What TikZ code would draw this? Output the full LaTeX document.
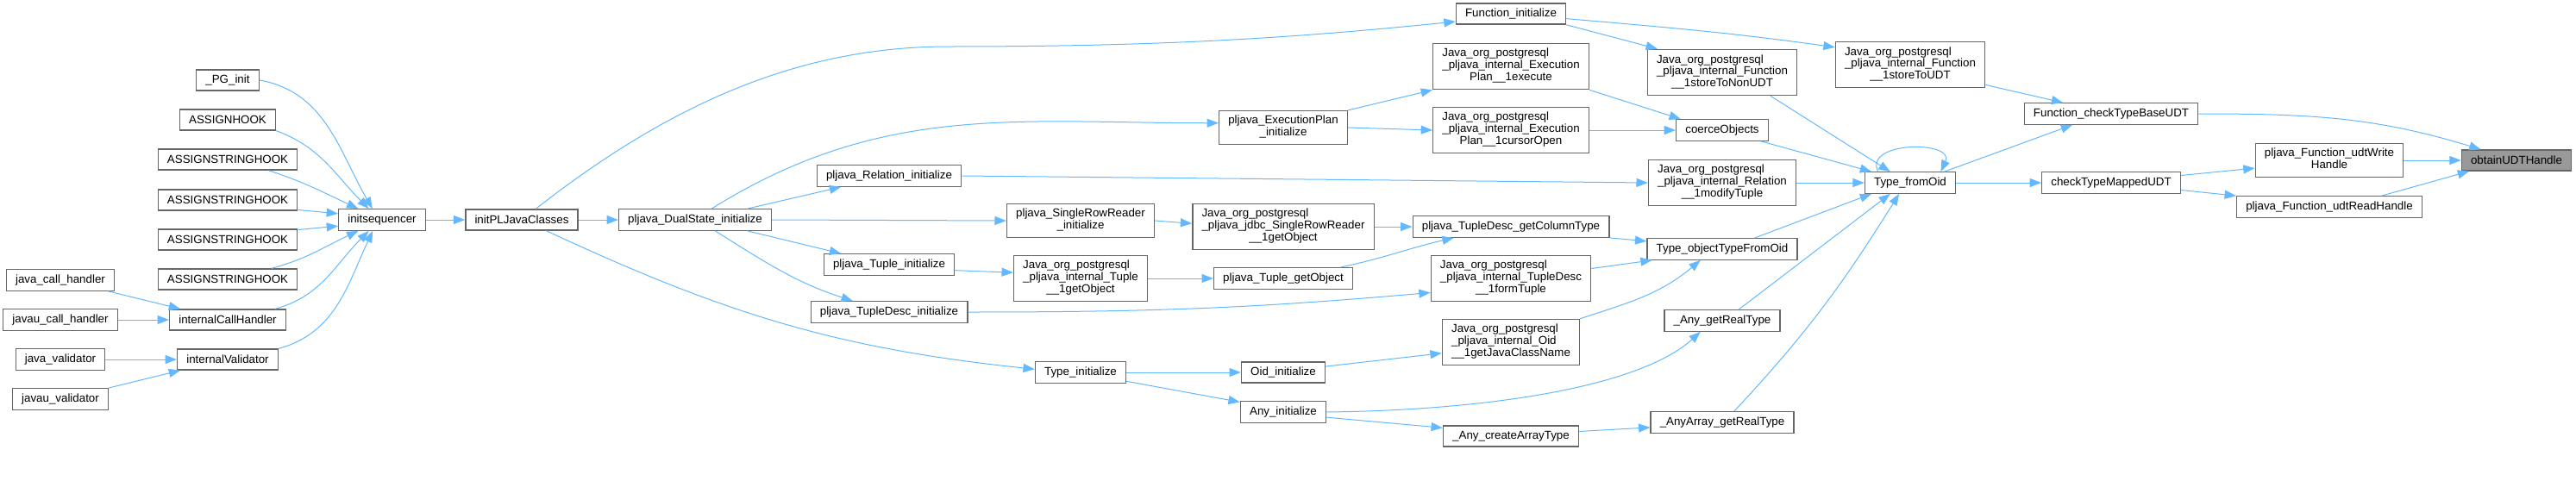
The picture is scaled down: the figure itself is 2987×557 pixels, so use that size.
\documentclass[tikz,border=0pt]{standalone}
\usepackage{fontspec}
\setmainfont{Liberation Sans}
\usetikzlibrary{arrows.meta}
\definecolor{edgeblue}{RGB}{99,184,255}
\definecolor{boxgray}{RGB}{102,102,102}
\definecolor{hlgray}{RGB}{153,153,153}
\newcommand{\twolines}[2]{\begin{tabular}{@{}l@{}}#1\\\multicolumn{1}{@{}c@{}}{#2}\end{tabular}}
\newcommand{\threelines}[3]{\begin{tabular}{@{}l@{}}#1\\#2\\\multicolumn{1}{@{}c@{}}{#3}\end{tabular}}
\newcommand{\jop}{Java\_org\_postgresql}
\begin{document}
\begin{tikzpicture}[
    x=0.75pt, y=-0.75pt,
    box/.style={rectangle, draw=boxgray, line width=1pt, fill=white, inner xsep=8pt, inner ysep=4.5pt,
                minimum height=18pt, font=\fontsize{10}{10.3}\selectfont},
    hlbox/.style={box, fill=hlgray},
    arr/.style={-{Triangle[length=10pt, width=7.5pt]}, edgeblue, line width=0.75pt}]
\useasboundingbox (0,0) rectangle (2987,557);
% column 1
\node[box] (jch) at (70,325) {java\_call\_handler};
\node[box] (jcu) at (70,371) {javau\_call\_handler};
\node[box] (jv) at (70,417) {java\_validator};
\node[box] (jvu) at (70,463) {javau\_validator};
% column 2
\node[box] (pginit) at (264,93) {\_PG\_init};
\node[box] (assignhook) at (264,139) {ASSIGNHOOK};
\node[box] (ash1) at (264,185) {ASSIGNSTRINGHOOK};
\node[box] (ash2) at (264,232) {ASSIGNSTRINGHOOK};
\node[box] (ash3) at (264,278) {ASSIGNSTRINGHOOK};
\node[box] (ash4) at (264,324) {ASSIGNSTRINGHOOK};
\node[box] (ich) at (264,371) {internalCallHandler};
\node[box] (iv) at (264,417) {internalValidator};
% columns 3 to 5
\node[box] (initseq) at (443,255) {initsequencer};
\node[box] (initpl) at (605,255) {initPLJavaClasses};
\node[box] (dsinit) at (806,255) {pljava\_DualState\_initialize};
% column 6
\node[box] (relinit) at (1031,204) {pljava\_Relation\_initialize};
\node[box] (tupinit) at (1031,307) {pljava\_Tuple\_initialize};
\node[box] (tdinit) at (1031,362) {pljava\_TupleDesc\_initialize};
% column 7
\node[box] (srrinit) at (1253,256) {\twolines{pljava\_SingleRowReader}{\_initialize}};
\node[box] (tupget) at (1253,323) {\threelines{\jop}{\_pljava\_internal\_Tuple}{\_\_1getObject}};
\node[box] (typeinit) at (1253,432) {Type\_initialize};
% column 8
\node[box] (epinit) at (1488,148) {\twolines{pljava\_ExecutionPlan}{\_initialize}};
\node[box] (jdbcget) at (1488,263) {\threelines{\jop}{\_pljava\_jdbc\_SingleRowReader}{\_\_1getObject}};
\node[box] (tgetobj) at (1488,323) {pljava\_Tuple\_getObject};
\node[box] (oidinit) at (1488,432) {Oid\_initialize};
\node[box] (anyinit) at (1488,478) {Any\_initialize};
% column 9
\node[box] (funcinit) at (1752,16) {Function\_initialize};
\node[box] (epexec) at (1752,77) {\threelines{\jop}{\_pljava\_internal\_Execution}{Plan\_\_1execute}};
\node[box] (epcur) at (1752,151) {\threelines{\jop}{\_pljava\_internal\_Execution}{Plan\_\_1cursorOpen}};
\node[box] (colty) at (1752,263) {pljava\_TupleDesc\_getColumnType};
\node[box] (formtup) at (1752,323) {\threelines{\jop}{\_pljava\_internal\_TupleDesc}{\_\_1formTuple}};
\node[box] (getjcn) at (1752,397) {\threelines{\jop}{\_pljava\_internal\_Oid}{\_\_1getJavaClassName}};
\node[box] (cat) at (1752,506) {\_Any\_createArrayType};
% column 10
\node[box] (storenon) at (1997,84) {\threelines{\jop}{\_pljava\_internal\_Function}{\_\_1storeToNonUDT}};
\node[box] (coerce) at (1997,151) {coerceObjects};
\node[box] (modtup) at (1997,212) {\threelines{\jop}{\_pljava\_internal\_Relation}{\_\_1modifyTuple}};
\node[box] (objtype) at (1997,289) {Type\_objectTypeFromOid};
\node[box] (anygrt) at (1997,372) {\_Any\_getRealType};
\node[box] (aagrt) at (1997,490) {\_AnyArray\_getRealType};
% columns 11 to 14
\node[box] (storeudt) at (2215,75) {\threelines{\jop}{\_pljava\_internal\_Function}{\_\_1storeToUDT}};
\node[box] (tfo) at (2215,212) {Type\_fromOid};
\node[box] (ctbu) at (2448,132) {Function\_checkTypeBaseUDT};
\node[box] (ctmu) at (2448,212) {checkTypeMappedUDT};
\node[box] (udtw) at (2701,186) {\twolines{pljava\_Function\_udtWrite}{Handle}};
\node[box] (udtr) at (2701,240) {pljava\_Function\_udtReadHandle};
\node[hlbox] (obtain) at (2918,186) {obtainUDTHandle};
% edges
\draw[arr] (pginit.east) to[out=-10, in=120] (initseq.131);
\draw[arr] (assignhook.south east) to[out=-20, in=135] (initseq.140);
\draw[arr] (ash1.-15) to[out=-18, in=155] (initseq.155);
\draw[arr] (ash2.-8) -- (initseq.172);
\draw[arr] (ash3.8) -- (initseq.188);
\draw[arr] (ash4.14) to[out=15, in=-155] (initseq.205);
\draw[arr] (ich.13) to[out=15, in=-135] (initseq.220);
\draw[arr] (iv.north east) to[out=15, in=-115] (initseq.230);
\draw[arr] (jch.-13) -- (ich.167);
\draw[arr] (jcu.east) -- (ich.west);
\draw[arr] (jv.east) -- (iv.west);
\draw[arr] (jvu.13) -- (iv.193);
\draw[arr] (initseq.east) -- (initpl.west);
\draw[arr] (initpl.east) -- (dsinit.west);
\draw[arr] (initpl.38) .. controls (780,118) and (930,54) .. (1100,54) .. controls (1350,54) and (1500,44) .. (funcinit.188);
\draw[arr] (initpl.-24) to[out=-25, in=174] (typeinit.176);
\draw[arr] (dsinit.34) to[out=32, in=180] (epinit.176);
\draw[arr] (dsinit.12) -- (relinit.193);
\draw[arr] (dsinit.east) -- (srrinit.west);
\draw[arr] (dsinit.-12) -- (tupinit.167);
\draw[arr] (dsinit.-29) to[out=-32, in=162] (tdinit.163);
\draw[arr] (relinit.east) -- (modtup.west);
\draw[arr] (epinit.15) -- (epexec.south west);
\draw[arr] (epinit.east) -- (epcur.west);
\draw[arr] (srrinit.east) -- (jdbcget.178);
\draw[arr] (tupinit.-5) -- (tupget.175);
\draw[arr] (tupget.east) -- (tgetobj.west);
\draw[arr] (tdinit.east) to[out=0, in=185] (formtup.190);
\draw[arr] (typeinit.east) -- (oidinit.west);
\draw[arr] (typeinit.-11) -- (anyinit.167);
\draw[arr] (funcinit.-5) to[out=-5, in=172] (storeudt.167);
\draw[arr] (funcinit.south east) -- (storenon.160);
\draw[arr] (epexec.south east) -- (coerce.165);
\draw[arr] (epcur.east) -- (coerce.west);
\draw[arr] (jdbcget.east) -- (colty.west);
\draw[arr] (tgetobj.11) to[out=12, in=193] (colty.191);
\draw[arr] (colty.south east) -- (objtype.174);
\draw[arr] (formtup.7) -- (objtype.189);
\draw[arr] (getjcn.north east) to[out=18, in=-140] (objtype.207);
\draw[arr] (oidinit.8) -- (getjcn.189);
\draw[arr] (anyinit.east) .. controls (1720,476) and (1900,450) .. (anygrt.207);
\draw[arr] (anyinit.-7) -- (cat.173);
\draw[arr] (cat.4) -- (aagrt.184);
\draw[arr] (storenon.-26) -- (tfo.151);
\draw[arr] (coerce.-16) -- (tfo.164);
\draw[arr] (modtup.east) -- (tfo.west);
\draw[arr] (objtype.19) -- (tfo.196);
\draw[arr] (anygrt.34) -- (tfo.209);
\draw[arr] (aagrt.43) to[out=47, in=-122] (tfo.225);
\draw[arr] (tfo.161) to[out=115, in=65, looseness=1.4] (tfo.20);
\draw[arr] (tfo.18) -- (ctbu.196);
\draw[arr] (tfo.east) -- (ctmu.west);
\draw[arr] (storeudt.-15) -- (ctbu.167);
\draw[arr] (ctbu.east) to[out=0, in=163] (obtain.163);
\draw[arr] (ctmu.6) -- (udtw.186);
\draw[arr] (ctmu.-6) -- (udtr.north west);
\draw[arr] (udtw.east) -- (obtain.west);
\draw[arr] (udtr.12) -- (obtain.193);
\end{tikzpicture}
\end{document}
